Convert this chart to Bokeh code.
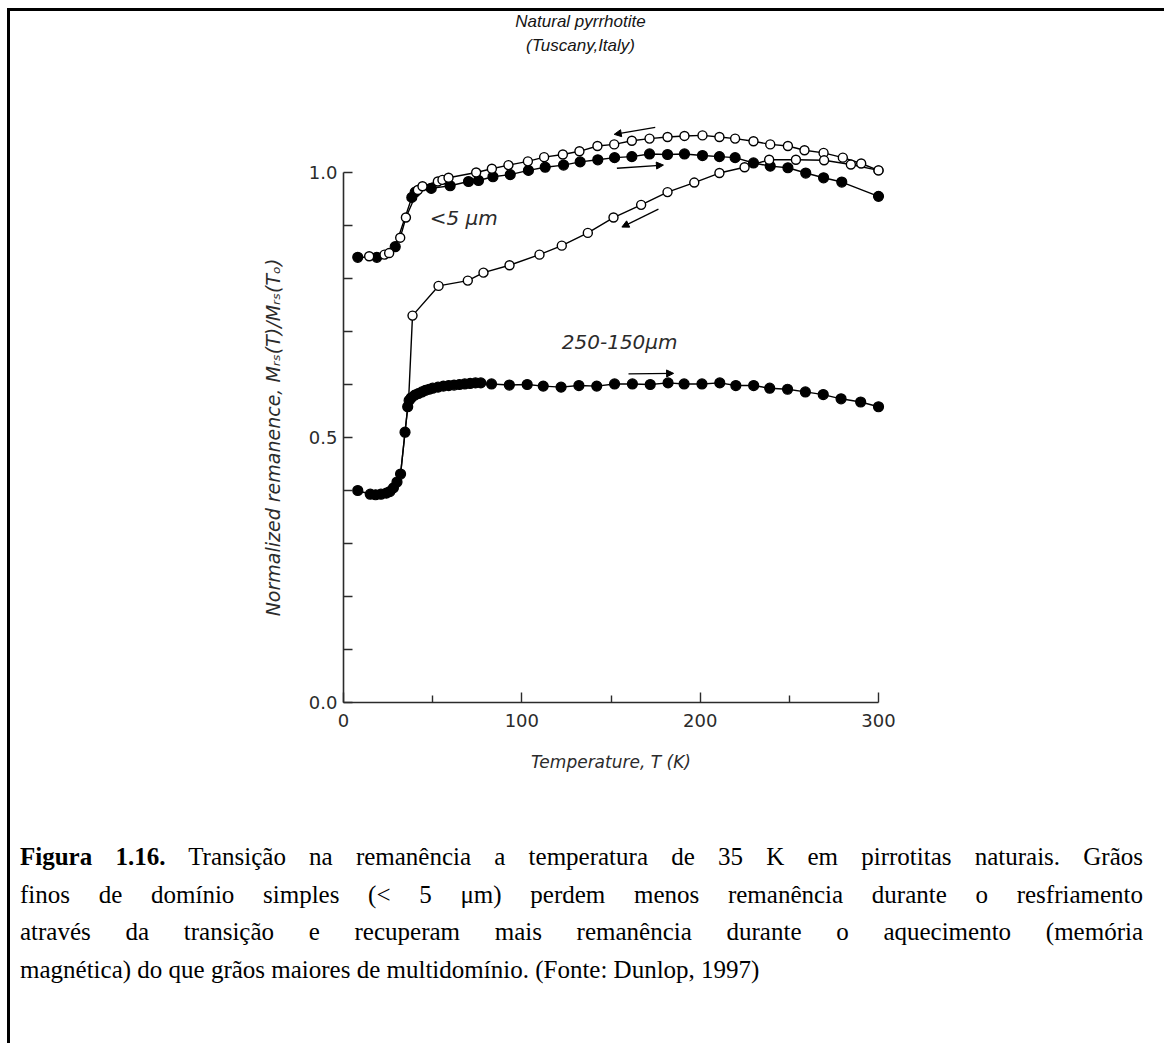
import math
from bokeh.plotting import figure
from bokeh.models import Range1d, FixedTicker, Label, Arrow, NormalHead, Div, CustomJSTickFormatter
from bokeh.layouts import column
from bokeh.embed import file_html
from bokeh.resources import INLINE

# ---------------- data ----------------
# <5 um, cooling from 300 K (open circles)
fine_cool_T = [14.4, 23.0, 25.6, 31.8, 35.0, 41.7, 44.3, 52.9, 55.5, 58.9, 74.4, 83.2, 92.5,
               103.4, 112.5, 123.0, 132.3, 142.4, 151.8, 161.7, 171.6, 181.7, 191.2, 201.3,
               210.8, 219.6, 229.9, 239.3, 249.2, 258.5, 269.2, 280.0, 290.3, 300.0]
fine_cool_V = [0.842, 0.845, 0.848, 0.877, 0.915, 0.967, 0.974, 0.983, 0.986, 0.990, 1.000, 1.007, 1.014,
               1.021, 1.029, 1.034, 1.040, 1.050, 1.053, 1.060, 1.064, 1.067, 1.069, 1.070,
               1.067, 1.064, 1.059, 1.053, 1.050, 1.042, 1.037, 1.028, 1.017, 1.004]
# <5 um, warming (filled circles)
fine_heat_T = [8.0, 18.7, 29.0, 38.3, 40.2, 49.2, 59.8, 70.1, 75.7, 83.8, 93.5, 103.7, 113.1,
               123.4, 132.7, 142.6, 152.0, 161.7, 171.6, 181.7, 191.2, 201.3, 210.8, 219.6,
               229.9, 239.3, 249.2, 259.2, 269.2, 279.4, 300.0]
fine_heat_V = [0.840, 0.840, 0.860, 0.953, 0.963, 0.970, 0.975, 0.983, 0.985, 0.992, 0.996, 1.004, 1.010,
               1.014, 1.020, 1.024, 1.028, 1.030, 1.035, 1.034, 1.035, 1.032, 1.030, 1.028,
               1.018, 1.012, 1.009, 0.999, 0.990, 0.982, 0.955]
# 250-150 um, cooling from 300 K (open circles)
coarse_cool_T = [300.0, 284.5, 269.5, 253.7, 238.7, 224.9, 210.8, 196.7, 181.7, 166.9, 151.4,
                 137.0, 122.4, 109.9, 93.1, 78.5, 69.7, 53.3, 38.7]
coarse_cool_V = [1.004, 1.015, 1.023, 1.024, 1.024, 1.010, 0.999, 0.981, 0.963, 0.939, 0.915,
                 0.886, 0.862, 0.845, 0.825, 0.811, 0.796, 0.786, 0.730]
# continuation of the cooling line through the transition (no markers)
coarse_cool_tail_T = [36.5, 34.5, 32.0]
coarse_cool_tail_V = [0.570, 0.510, 0.431]
# 250-150 um, warming (filled circles)
coarse_heat_T = [8.0, 15.0, 18.0, 21.0, 24.0, 26.0, 28.0, 30.0, 32.0, 34.5, 36.0, 36.8,
                 38.0, 40.0, 42.0, 44.0, 46.0, 48.0, 50.0, 53.0, 56.0, 59.0, 62.0, 65.0,
                 68.0, 71.0, 74.0, 77.0, 83.0, 93.0, 103.0, 112.0, 122.0, 132.0, 142.0,
                 152.0, 162.0, 172.0, 182.0, 191.0, 201.0, 211.0, 220.0, 230.0, 239.0,
                 249.0, 259.0, 269.0, 279.0, 290.0, 300.0]
coarse_heat_V = [0.400, 0.393, 0.392, 0.393, 0.395, 0.398, 0.405, 0.416, 0.431, 0.510, 0.558, 0.570,
                 0.575, 0.580, 0.583, 0.586, 0.589, 0.591, 0.593, 0.595, 0.597, 0.598, 0.599, 0.600,
                 0.601, 0.602, 0.603, 0.603, 0.601, 0.599, 0.600, 0.597, 0.595, 0.598, 0.597,
                 0.601, 0.601, 0.600, 0.603, 0.601, 0.601, 0.603, 0.598, 0.598, 0.593,
                 0.591, 0.586, 0.581, 0.573, 0.567, 0.558]

x_major = [0, 100, 200, 300]
x_minor = [50, 150, 250]
y_major = [0.0, 0.5, 1.0]
y_minor = [0.1, 0.2, 0.3, 0.4, 0.6, 0.7, 0.8, 0.9]

FONT = "DejaVu Sans"
INK = "#2b2b2b"

W, H = 1146, 800
X0, Y0 = 333.0, 691.0          # canvas position of (T=0, V=0)
SX, SY = 535.0 / 300.0, 530.0  # pixels per K, pixels per unit
p = figure(width=W, height=H, output_backend="svg", toolbar_location=None,
           x_range=Range1d(-X0 / SX, (W - X0) / SX),
           y_range=Range1d(-(H - Y0) / SY, Y0 / SY),
           min_border_left=0, min_border_right=0, min_border_top=0, min_border_bottom=0)
p.outline_line_color = None
p.grid.grid_line_color = None
p.background_fill_color = "white"
p.border_fill_color = "white"

for ax, bnds, maj, mnr in ((p.xaxis[0], (0, 300), x_major, x_minor),
                           (p.yaxis[0], (0, 1.0), y_major, y_minor)):
    ax.fixed_location = 0
    ax.bounds = bnds
    ax.ticker = FixedTicker(ticks=maj, minor_ticks=mnr)
    ax.axis_line_color = INK
    ax.axis_line_width = 1.6
    ax.major_tick_line_color = INK
    ax.minor_tick_line_color = INK
    ax.major_tick_line_width = 1.4
    ax.minor_tick_line_width = 1.4
    ax.major_tick_out = 0
    ax.minor_tick_out = 0
    ax.major_label_text_font = FONT
    ax.major_label_text_font_size = "18px"
    ax.major_label_text_color = INK

p.xaxis.major_tick_in = 10
p.xaxis.minor_tick_in = 7
p.yaxis.major_tick_in = 9
p.yaxis.minor_tick_in = 9
p.xaxis.major_label_standoff = 11
p.yaxis.major_label_standoff = 6
p.yaxis.formatter = CustomJSTickFormatter(code="return tick.toFixed(1);")

LW = 1.4
p.line(fine_cool_T, fine_cool_V, line_color="black", line_width=LW)
p.line(fine_heat_T, fine_heat_V, line_color="black", line_width=LW)
p.line(coarse_cool_T + coarse_cool_tail_T, coarse_cool_V + coarse_cool_tail_V, line_color="black", line_width=LW)
p.line(coarse_heat_T, coarse_heat_V, line_color="black", line_width=LW)

p.scatter(fine_heat_T, fine_heat_V, size=10, fill_color="black", line_color="black", line_width=1.2)
p.scatter(coarse_heat_T, coarse_heat_V, size=10, fill_color="black", line_color="black", line_width=1.2)
p.scatter(fine_cool_T, fine_cool_V, size=9, fill_color="white", line_color="black", line_width=1.4)
p.scatter(coarse_cool_T, coarse_cool_V, size=9, fill_color="white", line_color="black", line_width=1.4)

# arrows showing direction
for (x0, y0, x1, y1) in ((174.8, 1.085, 151.8, 1.072),
                         (153.3, 1.008, 179.4, 1.014),
                         (176.6, 0.931, 156.1, 0.897),
                         (159.8, 0.620, 185.1, 0.621)):
    p.add_layout(Arrow(end=NormalHead(size=7, fill_color="black", line_color="black"),
                       x_start=x0, y_start=y0, x_end=x1, y_end=y1,
                       line_color="black", line_width=1.3))

def lab(x, y, txt, size="20px", align="left", baseline="middle", font=FONT, angle=0.0, color=INK):
    p.add_layout(Label(x=x, y=y, text=txt, text_font=font, text_font_style="italic",
                       text_font_size=size, text_color=color, text_align=align,
                       text_baseline=baseline, angle=angle))

lab(48.3, 0.915, "<5 \u03bcm")
lab(122.4, 0.680, "250-150\u03bcm")
lab(132.9, 1.285, "Natural pyrrhotite", size="17px", align="center", font="Liberation Sans", color="#151515")
lab(132.9, 1.240, "(Tuscany,Italy)", size="17px", align="center", font="Liberation Sans", color="#151515")
lab(150.0, -0.112, "Temperature, T (K)", size="17px", align="center")
lab(-39.5, 0.5, "Normalized remanence, M\u1d63\u209b(T)/M\u1d63\u209b(T\u2092)", size="19px",
    align="center", angle=math.pi / 2)

caption_lines = [
    "<b>Figura 1.16.</b> Transição na remanência a temperatura de 35 K em pirrotitas naturais. Grãos",
    "finos de domínio simples (&lt; 5 μm) perdem menos remanência durante o resfriamento",
    "através da transição e recuperam mais remanência durante o aquecimento (memória",
    "magnética) do que grãos maiores de multidomínio. (Fonte: Dunlop, 1997)",
]
rows = []
for i, ln in enumerate(caption_lines):
    last = "left" if i == len(caption_lines) - 1 else "justify"
    rows.append(f'<div style="text-align:justify;text-align-last:{last};white-space:nowrap;">{ln}</div>')
html = ('<div style="font-family:\'Liberation Serif\',\'Times New Roman\',serif;font-size:25px;'
        'color:#000;line-height:37.5px;width:1128px;padding-left:5px;padding-top:22px;">'
        + "".join(rows) + "</div>")
cap = Div(text=html, width=1146, height=228)

layout = column(p, cap, styles={"border-left": "3px solid black", "border-top": "3px solid black",
                                "margin-left": "7px", "margin-top": "8px"})

open("out.html", "w").write(file_html(layout, INLINE))
